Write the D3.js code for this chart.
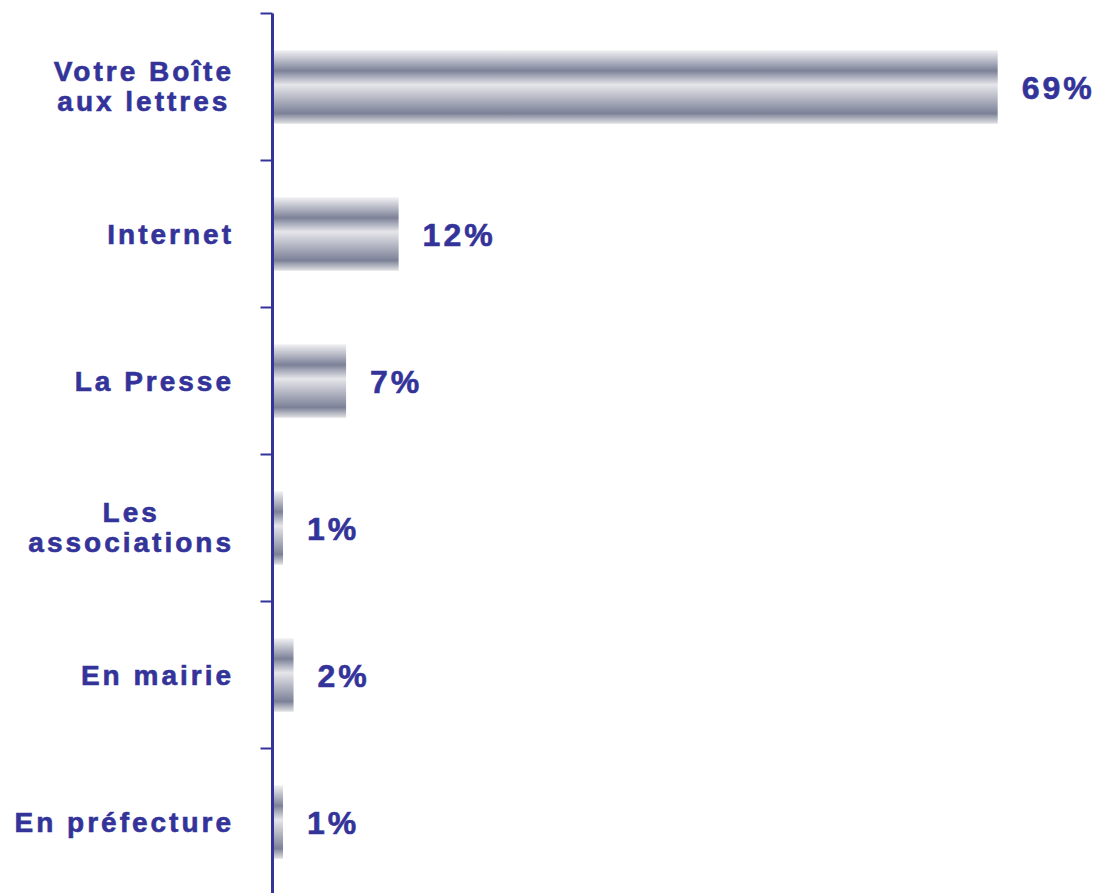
<!DOCTYPE html>
<html>
<head>
<meta charset="utf-8">
<script src="https://cdn.jsdelivr.net/npm/d3@7"></script>
<style>
  html, body { margin: 0; padding: 0; background: #ffffff; }
  svg { display: block; }
  text { font-family: "Liberation Sans", Arial, sans-serif; font-weight: bold; fill: #333399; stroke: #333399; stroke-width: 0.6px; }
</style>
</head>
<body>
<svg id="chart" width="1102" height="893"></svg>
<script>
const categories = [["Votre Boîte", "aux lettres"], ["Internet"], ["La Presse"], ["Les", "associations"], ["En mairie"], ["En préfecture"]];
const values = [69, 12, 7, 1, 2, 1];
const valueLabels = ["69%", "12%", "7%", "1%", "2%", "1%"];

const svg = d3.select("#chart");
const axisX = 272.5;
const ids = categories.map((c, i) => i);

const y = d3.scaleBand().domain(ids).range([13.5, 895.5]).paddingInner(0).paddingOuter(0);
const x = d3.scaleLinear().domain([0, 100]).range([axisX, axisX + 1051]);

// gradient
const defs = svg.append("defs");
const grad = defs.append("linearGradient").attr("id", "barGrad")
  .attr("x1", 0).attr("y1", 0).attr("x2", 0).attr("y2", 1);
[[0, "#f2f2f4"], [0.28, "#7c8198"], [0.47, "#e6e6ea"], [0.86, "#7c8198"], [1, "#e2e2e4"]]
  .forEach(([o, c]) => grad.append("stop").attr("offset", o).attr("stop-color", c));

const barH = y.bandwidth() * 0.5;

svg.selectAll("rect.bar").data(values).join("rect")
  .attr("class", "bar")
  .attr("x", x(0))
  .attr("y", (d, i) => y(i) + (y.bandwidth() - barH) / 2)
  .attr("width", d => x(d) - x(0))
  .attr("height", barH)
  .attr("fill", "url(#barGrad)");

// axis
const axis = d3.axisLeft(y).tickSize(12).tickFormat("").tickSizeOuter(0);
const gAxis = svg.append("g").attr("transform", `translate(${axisX},0)`).call(axis);
gAxis.select(".domain").attr("stroke", "#333399").attr("stroke-width", 3)
  .attr("d", `M0,${y.range()[0]}V${y.range()[1]}`);
// move ticks to band boundaries
gAxis.selectAll(".tick").attr("transform", d => `translate(0,${y(d)})`);
gAxis.selectAll(".tick line").attr("stroke", "#333399").attr("stroke-width", 2);

// category labels
const labelRight = 234;
categories.forEach((lines, i) => {
  const cy = y(i) + y.bandwidth() / 2;
  const g = svg.append("g");
  if (lines.length === 1) {
    g.append("text").attr("x", labelRight).attr("y", cy + 10)
      .attr("text-anchor", "end").style("font-size", "28px").style("letter-spacing", "3px")
      .text(lines[0]);
  } else {
    const ts = lines.map((l, k) => g.append("text").attr("y", cy - 6 + k * 30)
      .style("font-size", "28px").style("letter-spacing", "3px").text(l));
    const widths = ts.map(t => t.node().getComputedTextLength());
    const maxW = d3.max(widths);
    const center = labelRight - maxW / 2;
    ts.forEach(t => t.attr("x", center).attr("text-anchor", "middle"));
  }
});

// value labels
svg.selectAll("text.val").data(values).join("text")
  .attr("class", "val")
  .attr("x", d => x(d) + 24)
  .attr("y", (d, i) => y(i) + y.bandwidth() / 2 + 11.5)
  .style("font-size", "32px").style("letter-spacing", "3px")
  .text((d, i) => valueLabels[i]);
</script>
</body>
</html>
